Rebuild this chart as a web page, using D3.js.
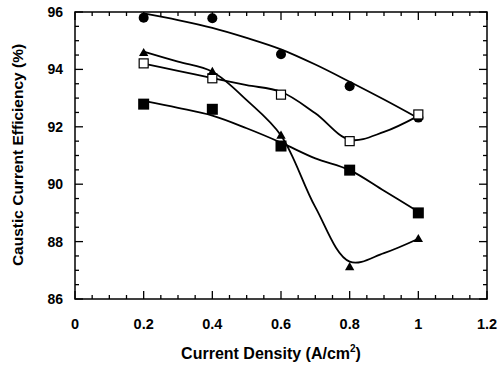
<!DOCTYPE html>
<meta charset="utf-8">
<style>
body { margin: 0; background: #fff; }
text { font-family: "Liberation Sans", Arial, sans-serif; font-weight: bold; fill: #000; }
.curve { fill: none; stroke: #000; stroke-width: 1.8; }
</style>
<svg width="500" height="365"></svg>
<script src="https://cdn.jsdelivr.net/npm/d3@7/dist/d3.min.js"></script>
<script>

// measured points
var density = [0.2, 0.4, 0.6, 0.8, 1.0];
var circles = [95.8, 95.78, 94.53, 93.41, 92.32];
var openSquares = [94.21, 93.69, 93.12, 91.5, 92.43];
var triangles = [94.56, 93.9, 91.68, 87.1, 88.08];
var filledSquares = [92.79, 92.61, 91.33, 90.49, 89.0];

// fitted curves
var fitX = [0.2, 0.3, 0.4, 0.5, 0.6, 0.7, 0.8, 0.9, 1.0];
var fitCircles = [95.95, 95.72, 95.45, 95.1, 94.7, 94.17, 93.57, 92.95, 92.3];
var fitOpen = [94.2, 93.95, 93.7, 93.45, 93.22, 92.47, 91.55, 91.82, 92.38];
var fitTriangles = [94.62, 94.27, 93.92, 92.93, 91.7, 89.2, 87.3, 87.6, 88.1];
var fitFilled = [92.9, 92.66, 92.39, 91.95, 91.45, 90.9, 90.49, 89.77, 89.04];

var xTicks = [0, 0.2, 0.4, 0.6, 0.8, 1, 1.2];
var yTicks = [86, 88, 90, 92, 94, 96];

var svg = d3.select("svg");
var pl = 75, pr = 487, pt = 12, pb = 299;

var x = d3.scaleLinear().domain([0, 1.2]).range([pl, pr]);
var y = d3.scaleLinear().domain([86, 96]).range([pb, pt]);

// frame
svg.append("rect")
    .attr("x", pl).attr("y", pt)
    .attr("width", pr - pl).attr("height", pb - pt)
    .attr("fill", "none").attr("stroke", "#000").attr("stroke-width", 1.5);

// ticks (inward) on all four sides
var xMinor = d3.range(0, 1.2001, 0.05);
var yMinor = d3.range(86, 96.001, 0.5);
function isMajor(v, step) { return Math.abs(v / step - Math.round(v / step)) < 1e-6; }

var ticks = svg.append("g").attr("stroke", "#000").attr("stroke-width", 1.3);
xMinor.forEach(function(v) {
  var len = isMajor(v, 0.2) ? 8 : 4;
  ticks.append("line").attr("x1", x(v)).attr("x2", x(v)).attr("y1", pb).attr("y2", pb - len);
  ticks.append("line").attr("x1", x(v)).attr("x2", x(v)).attr("y1", pt).attr("y2", pt + len);
});
yMinor.forEach(function(v) {
  var len = isMajor(v, 2) ? 8 : 4;
  ticks.append("line").attr("y1", y(v)).attr("y2", y(v)).attr("x1", pl).attr("x2", pl + len);
  ticks.append("line").attr("y1", y(v)).attr("y2", y(v)).attr("x1", pr).attr("x2", pr - len);
});

// tick labels
svg.append("g").selectAll("text")
  .data(xTicks)
  .enter().append("text")
    .attr("x", function(d) { return x(d); })
    .attr("y", 329)
    .attr("text-anchor", "middle")
    .attr("font-size", 14.5)
    .text(function(d) { return d; });

svg.append("g").selectAll("text")
  .data(yTicks)
  .enter().append("text")
    .attr("x", 63)
    .attr("y", function(d) { return y(d) + 5; })
    .attr("text-anchor", "end")
    .attr("font-size", 14)
    .text(function(d) { return d; });

// axis titles
var xt = svg.append("text")
    .attr("x", 271)
    .attr("y", 359)
    .attr("text-anchor", "middle")
    .attr("font-size", 16);
xt.append("tspan").text("Current Density (A/cm");
xt.append("tspan").attr("dy", -7).attr("font-size", 10).text("2");
xt.append("tspan").attr("dy", 7).text(")");

svg.append("text")
    .attr("transform", "translate(23,155) rotate(-90)")
    .attr("text-anchor", "middle")
    .attr("font-size", 15.5)
    .text("Caustic Current Efficiency (%)");

// curves
var line = d3.line()
    .x(function(d) { return x(d[0]); })
    .y(function(d) { return y(d[1]); })
    .curve(d3.curveCatmullRom.alpha(0.5));

[fitCircles, fitOpen, fitTriangles, fitFilled].forEach(function(s) {
  svg.append("path")
      .attr("class", "curve")
      .attr("d", line(d3.zip(fitX, s)));
});

// markers
svg.append("g").selectAll("circle")
  .data(d3.zip(density, circles))
  .enter().append("circle")
    .attr("cx", function(d) { return x(d[0]); })
    .attr("cy", function(d) { return y(d[1]); })
    .attr("r", 5)
    .attr("fill", "#000");

svg.append("g").selectAll("rect")
  .data(d3.zip(density, filledSquares))
  .enter().append("rect")
    .attr("x", function(d) { return x(d[0]) - 5.5; })
    .attr("y", function(d) { return y(d[1]) - 5.5; })
    .attr("width", 11).attr("height", 11)
    .attr("fill", "#000");

svg.append("g").selectAll("rect")
  .data(d3.zip(density, openSquares))
  .enter().append("rect")
    .attr("x", function(d) { return x(d[0]) - 4.5; })
    .attr("y", function(d) { return y(d[1]) - 4.5; })
    .attr("width", 9).attr("height", 9)
    .attr("fill", "#fff")
    .attr("stroke", "#000").attr("stroke-width", 1.2);

var tri = d3.symbol().type(d3.symbolTriangle).size(38);
svg.append("g").selectAll("path")
  .data(d3.zip(density, triangles))
  .enter().append("path")
    .attr("transform", function(d) { return "translate(" + x(d[0]) + "," + y(d[1]) + ")"; })
    .attr("d", tri)
    .attr("fill", "#000");

</script>
